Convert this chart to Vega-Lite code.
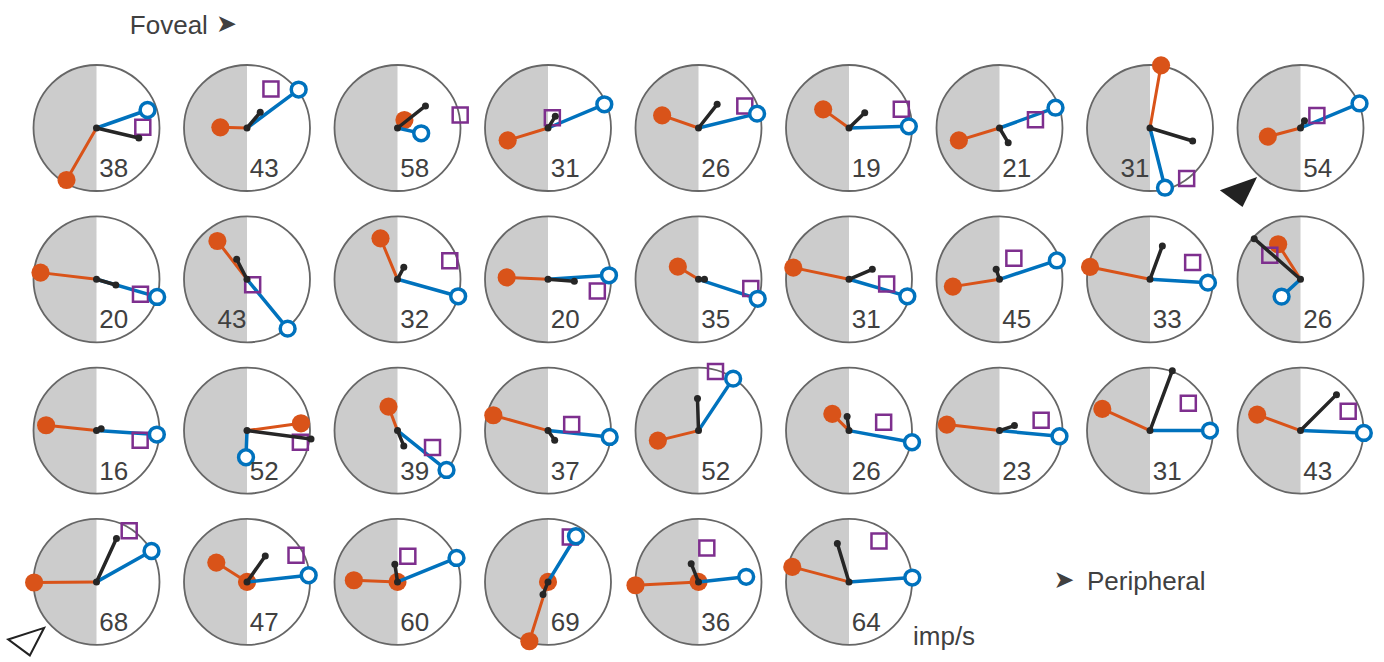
{
  "$schema": "https://vega.github.io/schema/vega-lite/v6.json",
  "background": "white",
  "padding": {"left": 3.5, "top": 12, "right": 0, "bottom": 0},
  "autosize": {"type": "pad"},
  "bounds": "flush",
  "config": {"view": {"stroke": null}, "font": "Liberation Sans", "header": {"labels": false, "title": null, "labelFontSize": 0, "labelPadding": 0, "titlePadding": 0}},
  "data": {"values": [
    {"c":1,"n":"38","s":"R","z":0,"ox":-0.476,"oy":-0.825,"bx":0.81,"by":0.286,"kx":0.672,"ky":-0.159,"qx":0.735,"qy":0.01},
    {"c":2,"n":"43","s":"R","z":0,"ox":-0.423,"oy":0.01,"bx":0.82,"by":0.61,"kx":0.21,"ky":0.25,"qx":0.38,"qy":0.62},
    {"c":3,"n":"58","s":"R","z":0,"ox":0.11,"oy":0.127,"bx":0.376,"by":-0.085,"kx":0.444,"ky":0.35,"qx":0.995,"qy":0.206},
    {"c":4,"n":"31","s":"R","z":0,"ox":-0.64,"oy":-0.196,"bx":0.894,"by":0.376,"kx":0.116,"ky":0.185,"qx":0.069,"qy":0.164},
    {"c":5,"n":"26","s":"R","z":0,"ox":-0.577,"oy":0.2,"bx":0.93,"by":0.228,"kx":0.296,"ky":0.376,"qx":0.735,"qy":0.35},
    {"c":6,"n":"19","s":"R","z":0,"ox":-0.41,"oy":0.296,"bx":0.95,"by":0.026,"kx":0.25,"ky":0.243,"qx":0.83,"qy":0.296},
    {"c":7,"n":"21","s":"R","z":0,"ox":-0.645,"oy":-0.196,"bx":0.889,"by":0.323,"kx":0.138,"ky":-0.233,"qx":0.571,"qy":0.132},
    {"c":8,"n":"31","s":"L","z":0,"ox":0.175,"oy":0.995,"bx":0.238,"by":-0.947,"kx":0.677,"ky":-0.206,"qx":0.582,"qy":-0.8},
    {"c":9,"n":"54","s":"R","z":0,"ox":-0.519,"oy":-0.138,"bx":0.937,"by":0.39,"kx":0.063,"ky":0.116,"qx":0.26,"qy":0.2},
    {"c":10,"n":"20","s":"R","z":0,"ox":-0.889,"oy":0.106,"bx":0.963,"by":-0.28,"kx":0.307,"ky":-0.09,"qx":0.698,"qy":-0.238},
    {"c":11,"n":"43","s":"L","z":0,"ox":-0.47,"oy":0.608,"bx":0.645,"by":-0.783,"kx":-0.164,"ky":0.317,"qx":0.09,"qy":-0.085},
    {"c":12,"n":"32","s":"R","z":0,"ox":-0.27,"oy":0.65,"bx":0.963,"by":-0.27,"kx":0.1,"ky":0.19,"qx":0.83,"qy":0.296},
    {"c":13,"n":"20","s":"R","z":0,"ox":-0.656,"oy":0.03,"bx":0.968,"by":0.063,"kx":0.418,"ky":-0.03,"qx":0.783,"qy":-0.185},
    {"c":14,"n":"35","s":"R","z":0,"ox":-0.328,"oy":0.2,"bx":0.94,"by":-0.31,"kx":0.095,"ky":0.0,"qx":0.83,"qy":-0.148},
    {"c":15,"n":"31","s":"R","z":0,"ox":-0.884,"oy":0.185,"bx":0.926,"by":-0.27,"kx":0.37,"ky":0.159,"qx":0.598,"qy":-0.074},
    {"c":16,"n":"45","s":"R","z":0,"ox":-0.74,"oy":-0.116,"bx":0.91,"by":0.3,"kx":-0.053,"ky":0.159,"qx":0.228,"qy":0.333},
    {"c":17,"n":"33","s":"R","z":0,"ox":-0.952,"oy":0.196,"bx":0.92,"by":-0.053,"kx":0.196,"ky":0.53,"qx":0.677,"qy":0.265},
    {"c":18,"n":"26","s":"R","z":0,"ox":-0.355,"oy":0.556,"bx":-0.3,"by":-0.275,"kx":-0.735,"ky":0.645,"qx":-0.487,"qy":0.38},
    {"c":19,"n":"16","s":"R","z":0,"ox":-0.8,"oy":0.085,"bx":0.958,"by":-0.063,"kx":0.074,"ky":0.03,"qx":0.693,"qy":-0.153},
    {"c":20,"n":"52","s":"R","z":0,"ox":0.857,"oy":0.116,"bx":-0.016,"by":-0.423,"kx":1.016,"ky":-0.132,"qx":0.847,"qy":-0.185},
    {"c":21,"n":"39","s":"R","z":0,"ox":-0.143,"oy":0.38,"bx":0.778,"by":-0.624,"kx":0.1,"ky":-0.243,"qx":0.556,"qy":-0.27},
    {"c":22,"n":"37","s":"R","z":0,"ox":-0.868,"oy":0.243,"bx":0.979,"by":-0.1,"kx":0.106,"ky":-0.153,"qx":0.376,"qy":0.095},
    {"c":23,"n":"52","s":"R","z":0,"ox":-0.645,"oy":-0.159,"bx":0.55,"by":0.825,"kx":-0.016,"ky":0.508,"qx":0.27,"qy":0.94},
    {"c":24,"n":"26","s":"R","z":0,"ox":-0.265,"oy":0.265,"bx":1.0,"by":-0.185,"kx":-0.03,"ky":0.222,"qx":0.55,"qy":0.132},
    {"c":25,"n":"23","s":"R","z":0,"ox":-0.836,"oy":0.095,"bx":0.952,"by":-0.09,"kx":0.238,"ky":0.08,"qx":0.661,"qy":0.164},
    {"c":26,"n":"31","s":"R","z":0,"ox":-0.757,"oy":0.344,"bx":0.952,"by":0.0,"kx":0.354,"ky":0.952,"qx":0.608,"qy":0.434},
    {"c":27,"n":"43","s":"R","z":0,"ox":-0.688,"oy":0.254,"bx":1.005,"by":-0.037,"kx":0.571,"ky":0.571,"qx":0.757,"qy":0.307},
    {"c":28,"n":"68","s":"R","z":0,"ox":-0.99,"oy":-0.01,"bx":0.873,"by":0.49,"kx":0.317,"ky":0.688,"qx":0.519,"qy":0.81},
    {"c":29,"n":"47","s":"R","z":1,"ox":-0.487,"oy":0.307,"bx":0.979,"by":0.106,"kx":0.29,"ky":0.413,"qx":0.778,"qy":0.423},
    {"c":30,"n":"60","s":"R","z":1,"ox":-0.693,"oy":0.026,"bx":0.937,"by":0.381,"kx":-0.042,"ky":0.28,"qx":0.164,"qy":0.407},
    {"c":31,"n":"69","s":"R","z":1,"ox":-0.296,"oy":-0.942,"bx":0.444,"by":0.725,"kx":-0.079,"ky":-0.2,"qx":0.354,"qy":0.714},
    {"c":32,"n":"36","s":"R","z":1,"ox":-1.0,"oy":-0.053,"bx":0.757,"by":0.08,"kx":-0.116,"ky":0.29,"qx":0.132,"qy":0.54},
    {"c":33,"n":"64","s":"R","z":0,"ox":-0.9,"oy":0.238,"bx":1.005,"by":0.069,"kx":-0.185,"ky":0.608,"qx":0.476,"qy":0.65}
  ]},
  "facet": {"field": "c", "type": "ordinal", "header": {"labels": false, "title": null, "labelFontSize": 0, "labelPadding": 0, "labelExpr": "''"}},
  "columns": 9,
  "spacing": {"row": 1.3, "column": 0.5},
  "spec": {
    "width": 150,
    "height": 150,
    "layer": [
      {"mark": {"type": "point", "shape": "M0,-1C-0.5523,-1,-1,-0.5523,-1,0C-1,0.5523,-0.5523,1,0,1Z", "size": 15876, "filled": true, "fill": "#cccccc", "strokeWidth": 0, "opacity": 1},
       "encoding": {"x": {"datum": 0, "type": "quantitative", "scale": {"domain": [-1.1905, 1.1905], "nice": false, "zero": false}, "axis": null},
                    "y": {"datum": 0, "type": "quantitative", "scale": {"domain": [-1.1905, 1.1905], "nice": false, "zero": false}, "axis": null}}},
      {"mark": {"type": "point", "shape": "circle", "size": 15876, "filled": false, "stroke": "#666666", "strokeWidth": 1.8, "opacity": 1},
       "encoding": {"x": {"datum": 0, "type": "quantitative", "scale": {"domain": [-1.1905, 1.1905], "nice": false, "zero": false}, "axis": null},
                    "y": {"datum": 0, "type": "quantitative", "scale": {"domain": [-1.1905, 1.1905], "nice": false, "zero": false}, "axis": null}}},
      {"mark": {"type": "rule", "color": "#d95319", "strokeWidth": 3, "strokeCap": "round"},
       "encoding": {"x": {"field": "ox", "type": "quantitative", "scale": {"domain": [-1.1905, 1.1905], "nice": false, "zero": false}, "axis": null},
                    "y": {"field": "oy", "type": "quantitative", "scale": {"domain": [-1.1905, 1.1905], "nice": false, "zero": false}, "axis": null},
                    "x2": {"datum": 0}, "y2": {"datum": 0}}},
      {"mark": {"type": "point", "shape": "circle", "size": 330, "filled": true, "color": "#d95319", "opacity": 1},
       "encoding": {"x": {"field": "ox", "type": "quantitative", "scale": {"domain": [-1.1905, 1.1905], "nice": false, "zero": false}, "axis": null},
                    "y": {"field": "oy", "type": "quantitative", "scale": {"domain": [-1.1905, 1.1905], "nice": false, "zero": false}, "axis": null}}},
      {"transform": [{"filter": "datum.z == 1"}],
       "mark": {"type": "point", "shape": "circle", "size": 330, "filled": true, "color": "#d95319", "opacity": 1},
       "encoding": {"x": {"datum": 0, "type": "quantitative", "scale": {"domain": [-1.1905, 1.1905], "nice": false, "zero": false}, "axis": null},
                    "y": {"datum": 0, "type": "quantitative", "scale": {"domain": [-1.1905, 1.1905], "nice": false, "zero": false}, "axis": null}}},
      {"mark": {"type": "rule", "color": "#0072bd", "strokeWidth": 3.5, "strokeCap": "round"},
       "encoding": {"x": {"field": "bx", "type": "quantitative", "scale": {"domain": [-1.1905, 1.1905], "nice": false, "zero": false}, "axis": null},
                    "y": {"field": "by", "type": "quantitative", "scale": {"domain": [-1.1905, 1.1905], "nice": false, "zero": false}, "axis": null},
                    "x2": {"datum": 0}, "y2": {"datum": 0}}},
      {"mark": {"type": "point", "shape": "square", "size": 225, "filled": false, "stroke": "#7e2f8e", "strokeWidth": 2.5, "opacity": 1},
       "encoding": {"x": {"field": "qx", "type": "quantitative", "scale": {"domain": [-1.1905, 1.1905], "nice": false, "zero": false}, "axis": null},
                    "y": {"field": "qy", "type": "quantitative", "scale": {"domain": [-1.1905, 1.1905], "nice": false, "zero": false}, "axis": null}}},
      {"mark": {"type": "point", "shape": "circle", "size": 220, "filled": false, "fill": "white", "stroke": "#0072bd", "strokeWidth": 3.5, "opacity": 1},
       "encoding": {"x": {"field": "bx", "type": "quantitative", "scale": {"domain": [-1.1905, 1.1905], "nice": false, "zero": false}, "axis": null},
                    "y": {"field": "by", "type": "quantitative", "scale": {"domain": [-1.1905, 1.1905], "nice": false, "zero": false}, "axis": null}}},
      {"mark": {"type": "rule", "color": "#262626", "strokeWidth": 3.5, "strokeCap": "round"},
       "encoding": {"x": {"field": "kx", "type": "quantitative", "scale": {"domain": [-1.1905, 1.1905], "nice": false, "zero": false}, "axis": null},
                    "y": {"field": "ky", "type": "quantitative", "scale": {"domain": [-1.1905, 1.1905], "nice": false, "zero": false}, "axis": null},
                    "x2": {"datum": 0}, "y2": {"datum": 0}}},
      {"mark": {"type": "point", "shape": "circle", "size": 49, "filled": true, "color": "#262626", "opacity": 1},
       "encoding": {"x": {"field": "kx", "type": "quantitative", "scale": {"domain": [-1.1905, 1.1905], "nice": false, "zero": false}, "axis": null},
                    "y": {"field": "ky", "type": "quantitative", "scale": {"domain": [-1.1905, 1.1905], "nice": false, "zero": false}, "axis": null}}},
      {"mark": {"type": "point", "shape": "circle", "size": 49, "filled": true, "color": "#262626", "opacity": 1},
       "encoding": {"x": {"datum": 0, "type": "quantitative", "scale": {"domain": [-1.1905, 1.1905], "nice": false, "zero": false}, "axis": null},
                    "y": {"datum": 0, "type": "quantitative", "scale": {"domain": [-1.1905, 1.1905], "nice": false, "zero": false}, "axis": null}}},
      {"transform": [{"filter": "datum.s == 'R'"}],
       "mark": {"type": "text", "align": "center", "baseline": "alphabetic", "fontSize": 26, "color": "#404040"},
       "encoding": {"x": {"datum": 0.275, "type": "quantitative", "scale": {"domain": [-1.1905, 1.1905], "nice": false, "zero": false}, "axis": null},
                    "y": {"datum": -0.78, "type": "quantitative", "scale": {"domain": [-1.1905, 1.1905], "nice": false, "zero": false}, "axis": null},
                    "text": {"field": "n", "type": "nominal"}}},
      {"transform": [{"filter": "datum.s == 'L'"}],
       "mark": {"type": "text", "align": "center", "baseline": "alphabetic", "fontSize": 26, "color": "#404040"},
       "encoding": {"x": {"datum": -0.238, "type": "quantitative", "scale": {"domain": [-1.1905, 1.1905], "nice": false, "zero": false}, "axis": null},
                    "y": {"datum": -0.78, "type": "quantitative", "scale": {"domain": [-1.1905, 1.1905], "nice": false, "zero": false}, "axis": null},
                    "text": {"field": "n", "type": "nominal"}}},
      {"transform": [{"filter": "datum.c == 1"}],
       "mark": {"type": "text", "text": "Foveal", "align": "left", "baseline": "alphabetic", "fontSize": 26, "color": "#404040"},
       "encoding": {"x": {"datum": 0.529, "type": "quantitative", "scale": {"domain": [-1.1905, 1.1905], "nice": false, "zero": false}, "axis": null},
                    "y": {"datum": 1.487, "type": "quantitative", "scale": {"domain": [-1.1905, 1.1905], "nice": false, "zero": false}, "axis": null}}},
      {"transform": [{"filter": "datum.c == 1"}],
       "mark": {"type": "text", "text": "➤", "align": "center", "baseline": "middle", "fontSize": 25, "font": "DejaVu Sans", "color": "#404040"},
       "encoding": {"x": {"datum": 2.063, "type": "quantitative", "scale": {"domain": [-1.1905, 1.1905], "nice": false, "zero": false}, "axis": null},
                    "y": {"datum": 1.646, "type": "quantitative", "scale": {"domain": [-1.1905, 1.1905], "nice": false, "zero": false}, "axis": null}}},
      {"transform": [{"filter": "datum.c == 33"}],
       "mark": {"type": "text", "text": "Peripheral", "align": "left", "baseline": "alphabetic", "fontSize": 26, "color": "#404040"},
       "encoding": {"x": {"datum": 3.778, "type": "quantitative", "scale": {"domain": [-1.1905, 1.1905], "nice": false, "zero": false}, "axis": null},
                    "y": {"datum": -0.135, "type": "quantitative", "scale": {"domain": [-1.1905, 1.1905], "nice": false, "zero": false}, "axis": null}}},
      {"transform": [{"filter": "datum.c == 33"}],
       "mark": {"type": "text", "text": "➤", "align": "center", "baseline": "middle", "fontSize": 25, "font": "DejaVu Sans", "color": "#404040"},
       "encoding": {"x": {"datum": 3.413, "type": "quantitative", "scale": {"domain": [-1.1905, 1.1905], "nice": false, "zero": false}, "axis": null},
                    "y": {"datum": 0.03, "type": "quantitative", "scale": {"domain": [-1.1905, 1.1905], "nice": false, "zero": false}, "axis": null}}},
      {"transform": [{"filter": "datum.c == 33"}],
       "mark": {"type": "text", "text": "imp/s", "align": "left", "baseline": "alphabetic", "fontSize": 26, "color": "#404040"},
       "encoding": {"x": {"datum": 1.016, "type": "quantitative", "scale": {"domain": [-1.1905, 1.1905], "nice": false, "zero": false}, "axis": null},
                    "y": {"datum": -1.008, "type": "quantitative", "scale": {"domain": [-1.1905, 1.1905], "nice": false, "zero": false}, "axis": null}}},
      {"transform": [{"filter": "datum.c == 9"}],
       "mark": {"type": "point", "shape": "M-20,-1.1L17.3,-14.4L2.7,15.6Z", "size": 4, "filled": true, "fill": "#222222", "strokeWidth": 0, "opacity": 1},
       "encoding": {"x": {"datum": -0.963, "type": "quantitative", "scale": {"domain": [-1.1905, 1.1905], "nice": false, "zero": false}, "axis": null},
                    "y": {"datum": -1.006, "type": "quantitative", "scale": {"domain": [-1.1905, 1.1905], "nice": false, "zero": false}, "axis": null}}},
      {"transform": [{"filter": "datum.c == 28"}],
       "mark": {"type": "point", "shape": "M-19.2,-1.5L16.8,-13.1L2.5,14.5Z", "size": 4, "filled": false, "stroke": "#222222", "strokeWidth": 2, "strokeJoin": "miter", "opacity": 1},
       "encoding": {"x": {"datum": -1.098, "type": "quantitative", "scale": {"domain": [-1.1905, 1.1905], "nice": false, "zero": false}, "axis": null},
                    "y": {"datum": -0.937, "type": "quantitative", "scale": {"domain": [-1.1905, 1.1905], "nice": false, "zero": false}, "axis": null}}}
    ]
  }
}
